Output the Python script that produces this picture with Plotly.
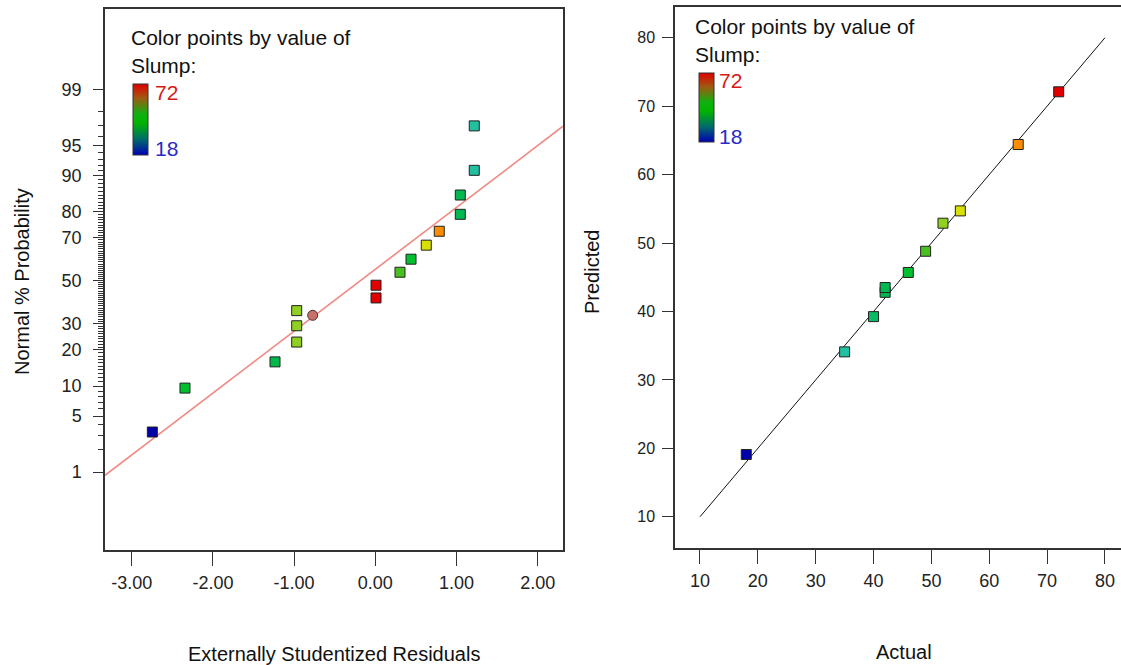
import plotly.graph_objects as go
from statistics import NormalDist

nd = NormalDist()

# ---------------- data ----------------
# Left panel: normal probability plot of externally studentized residuals
resid = [-2.746, -2.344, -1.235, -0.968, -0.968, -0.968, 0.009, 0.009,
         0.304, 0.44, 0.628, 0.788, 1.047, 1.047, 1.219, 1.219]
prob_pct = [3.3, 9.6, 16.2, 35.8, 29.2, 22.8, 47.8, 41.7,
            54.1, 60.3, 66.7, 72.6, 79.0, 85.1, 91.0, 97.0]
slump_left = [18, 46, 44, 52, 52, 52, 72, 72, 49, 46, 55, 65, 42, 42, 35, 35]
flag_resid = [-0.771]
flag_prob = [33.7]
fit_slope = 0.752
fit_intercept = 0.138
prob_ticks = [1, 5, 10, 20, 30, 50, 70, 80, 90, 95, 99]
prob_ticktext = ["1", "5", "10", "20", "30", "50", "70", "80", "90", "95", "99"]
prob_minor = [p for p in range(1, 100) if p not in prob_ticks]
resid_ticks = [-3, -2, -1, 0, 1, 2]
resid_ticktext = ["-3.00", "-2.00", "-1.00", "0.00", "1.00", "2.00"]

# Right panel: predicted vs actual
actual = [18, 35, 40, 42, 42, 46, 49, 52, 55, 65, 72]
predicted = [19.1, 34.1, 39.25, 42.8, 43.5, 45.7, 48.8, 52.9, 54.7, 64.4, 72.1]
diag = [10, 80]
ticks_10 = [10, 20, 30, 40, 50, 60, 70, 80]

slump_min, slump_max = 18, 72

# ---------------- styling ----------------
W, H = 1121, 665
NARROW = "Liberation Sans Narrow, Arial Narrow, Liberation Sans, Arial, sans-serif"
REG = "Liberation Sans, Arial, sans-serif"
FRAME = "#333333"

point_scale = [
    [0.0, "#0000a8"], [0.315, "#20c0a0"], [0.444, "#00b850"], [0.48, "#00b848"],
    [0.519, "#00c030"], [0.574, "#48c020"], [0.63, "#90d020"],
    [0.685, "#d8e000"], [0.87, "#ff8c00"], [1.0, "#e00000"],
]
bar_scale = [
    [0.0, "#0000b4"], [0.22, "#006a6a"], [0.45, "#00b400"], [0.58, "#10b010"],
    [0.8, "#a05a10"], [1.0, "#e00000"],
]


def px_x(p):
    return p / W


def px_y(p):
    return 1 - p / H


L_x0, L_x1, L_y0, L_y1 = 105, 563, 9, 550
R_x0, R_x1, R_y0, R_y1 = 675, 1121, 7, 548

z = [nd.inv_cdf(p / 100) for p in prob_pct]
flag_z = [nd.inv_cdf(p / 100) for p in flag_prob]
zt = [nd.inv_cdf(p / 100) for p in prob_ticks]
zm = [nd.inv_cdf(p / 100) for p in prob_minor]

xl_range = [-3.329, 2.312]
yl_range = [-3.272, 3.301]
xr_range = [5.68, 82.77]
yr_range = [5.44, 84.49]

fig = go.Figure()

# fit line (left)
fig.add_trace(go.Scatter(
    x=xl_range, y=[fit_slope * v + fit_intercept for v in xl_range],
    mode="lines", line=dict(color="#f08a84", width=1.6),
    xaxis="x", yaxis="y", showlegend=False, hoverinfo="skip"))

fig.add_trace(go.Scatter(
    x=resid, y=z, mode="markers",
    marker=dict(symbol="square", size=10, color=slump_left, cmin=slump_min, cmax=slump_max,
                colorscale=point_scale, showscale=False,
                line=dict(color="#222222", width=1)),
    xaxis="x", yaxis="y", showlegend=False))

fig.add_trace(go.Scatter(
    x=flag_resid, y=flag_z, mode="markers",
    marker=dict(symbol="circle", size=10, color="#c8706a",
                line=dict(color="#443030", width=1)),
    xaxis="x", yaxis="y", showlegend=False))

# diagonal (right)
fig.add_trace(go.Scatter(
    x=diag, y=diag, mode="lines", line=dict(color="#111111", width=1),
    xaxis="x2", yaxis="y2", showlegend=False, hoverinfo="skip"))

fig.add_trace(go.Scatter(
    x=actual, y=predicted, mode="markers",
    marker=dict(symbol="square", size=10, color=actual, cmin=slump_min, cmax=slump_max,
                colorscale=point_scale, showscale=False,
                line=dict(color="#222222", width=1)),
    xaxis="x2", yaxis="y2", showlegend=False))


# legend colour bars
def bar_trace(xa, ya, x_left, y_top, thick, length):
    return go.Scatter(
        x=[None], y=[None], mode="markers", xaxis=xa, yaxis=ya, showlegend=False,
        hoverinfo="skip",
        marker=dict(color=[slump_min, slump_max], cmin=slump_min, cmax=slump_max,
                    colorscale=bar_scale, showscale=True,
                    colorbar=dict(x=px_x(x_left), xanchor="left", xref="paper",
                                  y=px_y(y_top), yanchor="top", yref="paper",
                                  thickness=thick, thicknessmode="pixels",
                                  len=length, lenmode="pixels",
                                  xpad=0, ypad=0, outlinewidth=1, outlinecolor="#333333",
                                  showticklabels=False, ticks="")))


fig.add_trace(bar_trace("x", "y", 133, 84, 15, 71))
fig.add_trace(bar_trace("x2", "y2", 699, 73, 15, 69))

axis_common = dict(showline=True, linecolor=FRAME, linewidth=1.5,
                   showgrid=False, zeroline=False, ticks="outside",
                   tickcolor=FRAME, tickwidth=1.2)

fig.update_layout(
    width=W, height=H, margin=dict(l=0, r=0, t=0, b=0),
    paper_bgcolor="white", plot_bgcolor="white",
    xaxis=dict(domain=[px_x(L_x0), px_x(L_x1)], range=xl_range, anchor="y", mirror=True,
               tickmode="array", tickvals=resid_ticks, ticktext=resid_ticktext,
               ticklen=14, ticklabelstandoff=2,
               tickfont=dict(family=NARROW, size=18, color="#222222"), **axis_common),
    yaxis=dict(domain=[px_y(L_y1), px_y(L_y0)], range=yl_range, anchor="x", mirror=True,
               tickmode="array", tickvals=zt, ticktext=prob_ticktext,
               ticklen=10, ticklabelstandoff=8,
               minor=dict(tickmode="array", tickvals=zm, ticklen=5, ticks="outside",
                          tickcolor=FRAME, tickwidth=1),
               tickfont=dict(family=NARROW, size=18, color="#222222"), **axis_common),
    xaxis2=dict(domain=[px_x(R_x0), px_x(R_x1)], range=xr_range, anchor="y2", mirror=True,
                tickmode="array", tickvals=ticks_10,
                ticklen=14, ticklabelstandoff=2,
                tickfont=dict(family=NARROW, size=18, color="#222222"), **axis_common),
    yaxis2=dict(domain=[px_y(R_y1), px_y(R_y0)], range=yr_range, anchor="x2", mirror=False,
                tickmode="array", tickvals=ticks_10,
                ticklen=11, ticklabelstandoff=4,
                tickfont=dict(family=REG, size=16, color="#222222"), **axis_common),
)

ann = []


def text(x, y, s, size, color="#111111", family=REG, xanchor="left", angle=0):
    ann.append(dict(x=px_x(x), y=px_y(y), xref="paper", yref="paper", text=s,
                    showarrow=False, xanchor=xanchor, yanchor="middle", textangle=angle,
                    font=dict(family=family, size=size, color=color)))


# legend texts
text(129, 37, "Color points by value of", 21)
text(129, 65, "Slump:", 21)
text(153, 93, "72", 21, color="#d81818")
text(153, 148, "18", 21, color="#2a2ac8")
text(693, 26, "Color points by value of", 21)
text(693, 55, "Slump:", 21)
text(717, 81, "72", 21, color="#d81818")
text(717, 136, "18", 21, color="#2a2ac8")

# axis titles
text(334, 654, "Externally Studentized Residuals", 20, family=NARROW, xanchor="center")
text(904, 652, "Actual", 20, family=NARROW, xanchor="center")
text(22, 282, "Normal % Probability", 20, xanchor="center", angle=-90)
text(592, 272, "Predicted", 20, xanchor="center", angle=-90)

fig.update_layout(annotations=ann)

fig.write_html("out.html")
